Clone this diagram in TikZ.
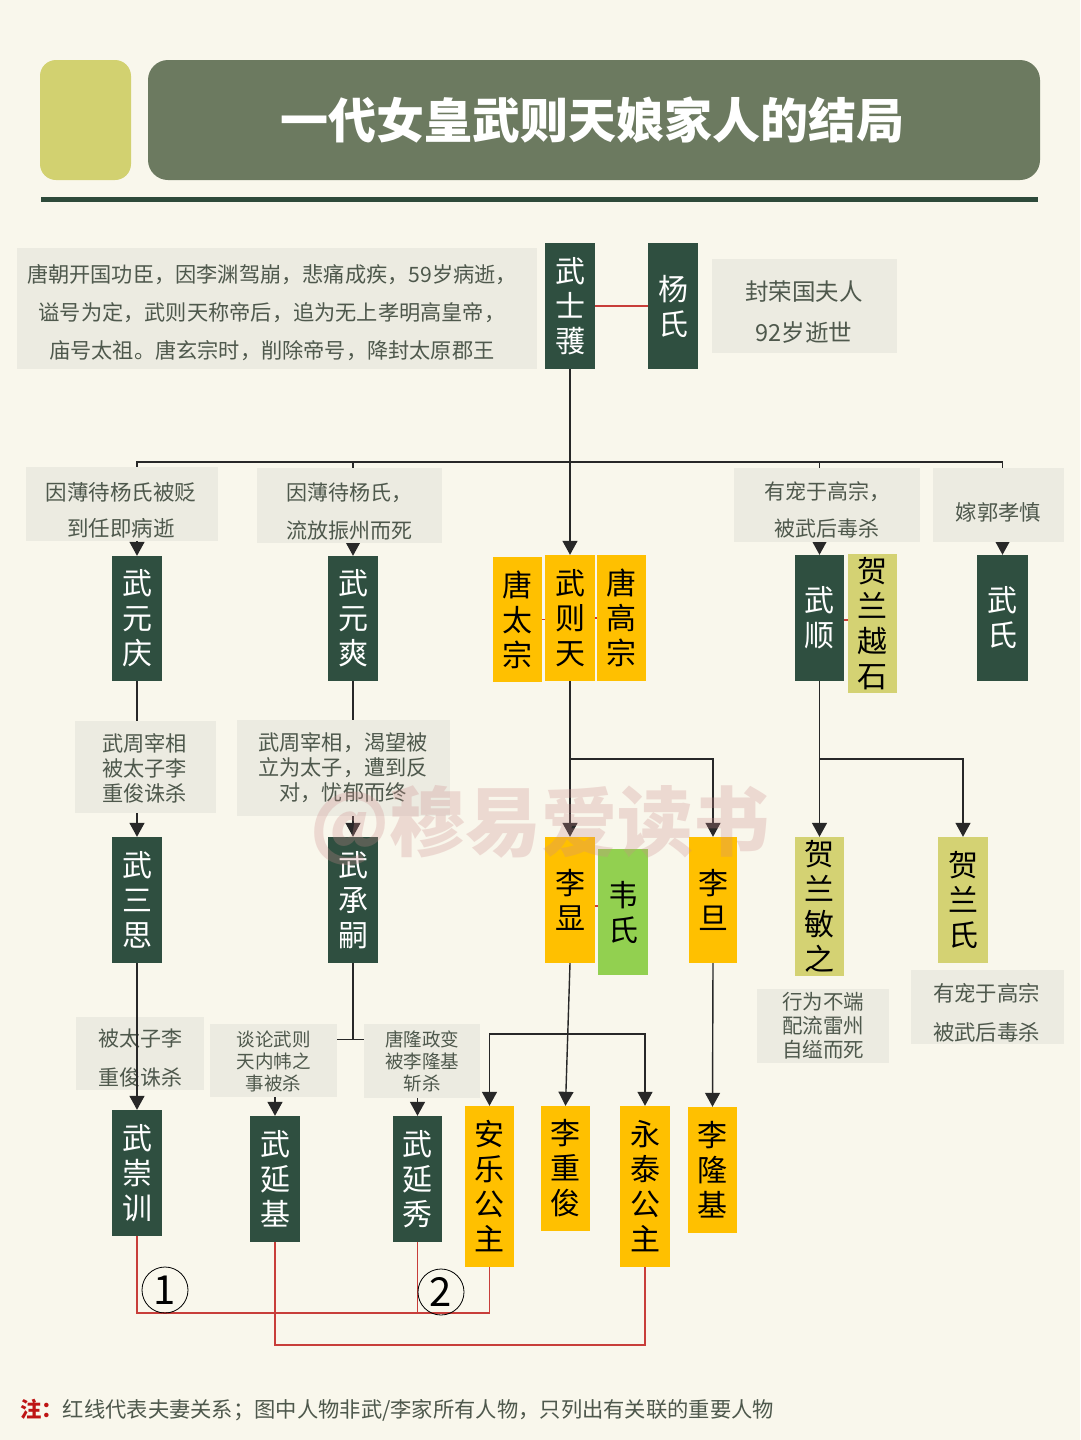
\documentclass[tikz,border=0pt]{standalone}
\usepackage{fontspec}
\newfontfamily\cjk{Noto Sans CJK SC}
\usetikzlibrary{arrows.meta,calc}
\definecolor{bgc}{RGB}{249,247,236}
\definecolor{lime}{RGB}{210,209,112}
\definecolor{hdr}{RGB}{108,122,96}
\definecolor{hline}{RGB}{46,74,58}
\definecolor{dkg}{RGB}{47,79,64}
\definecolor{org}{RGB}{255,192,0}
\definecolor{olv}{RGB}{212,210,115}
\definecolor{wgr}{RGB}{146,208,80}
\definecolor{gbx}{RGB}{236,235,225}
\definecolor{gtx}{RGB}{78,88,76}
\definecolor{lnc}{RGB}{40,40,40}
\definecolor{redl}{RGB}{200,62,58}
\definecolor{notered}{RGB}{190,20,20}
\definecolor{wmc}{RGB}{205,140,140}
\pgfdeclarelayer{bgl}
\pgfdeclarelayer{lines}
\pgfdeclarelayer{front}
\pgfsetlayers{bgl,lines,main,front}
\tikzset{
  pn/.style={rectangle, inner sep=0pt, align=center, font=\cjk\fontsize{30}{35}\selectfont},
  dk/.style={pn, fill=dkg, text=white},
  og/.style={pn, fill=org, text=black},
  ol/.style={pn, fill=olv, text=black},
  wg/.style={pn, fill=wgr, text=black},
  sz/.style n args={2}{minimum width=#1pt, minimum height=#2pt},
  gtxt/.style={align=center, text=gtx, inner sep=0pt},
  ln/.style={line width=1.4pt, draw=lnc},
  arr/.style={ln, -{Triangle[width=15pt,length=14pt]}},
  rl/.style={line width=1.4pt, draw=redl},
  cnum/.style={circle, draw=black, line width=0.8pt, minimum size=46pt, inner sep=0pt, font=\cjk\fontsize{40}{40}\selectfont}
}
\begin{document}
\begin{tikzpicture}[x=1pt,y=-1pt]
\begin{pgfonlayer}{bgl}
\fill[bgc] (0,0) rectangle (1080,1440);
\end{pgfonlayer}
\useasboundingbox (0,0) rectangle (1080,1440);

% header
\node[fill=lime, rounded corners=16pt, minimum width=91pt, minimum height=120pt, inner sep=0pt] (hdl) at (85.5,120) {};
\node[fill=hdr, rounded corners=20pt, minimum width=892pt, minimum height=120pt, inner sep=0pt] (hdr) at (594,120) {};
\node[font=\cjk\bfseries\fontsize{48}{48}\selectfont, text=white] (title) at (592,120) {一代女皇武则天娘家人的结局};
\fill[hline] (41,197) rectangle (1038,202);

% gray boxes
\fill[gbx] (17,248) rectangle (537,369);
\fill[gbx] (712,259) rectangle (897,353);
\fill[gbx] (26,467) rectangle (218,541);
\fill[gbx] (257,468) rectangle (442,543);
\fill[gbx] (734,468) rectangle (920,542);
\fill[gbx] (933,468) rectangle (1064,542);
\fill[gbx] (75,721) rectangle (216,813);
\fill[gbx] (237,720) rectangle (450,816);
\fill[gbx] (757,989) rectangle (889,1063);
\fill[gbx] (911,970) rectangle (1064,1044);
\fill[gbx] (76,1017) rectangle (204,1090);
\fill[gbx] (210,1024) rectangle (337,1097);
\fill[gbx] (364,1024) rectangle (480,1098);

% gray texts
\node[gtxt, font=\cjk\fontsize{21.2}{38}\selectfont] (t0) at (272,313) {唐朝开国功臣，因李渊驾崩，悲痛成疾，59岁病逝，\\谥号为定，武则天称帝后，追为无上孝明高皇帝，\\庙号太祖。唐玄宗时，削除帝号，降封太原郡王};
\node[gtxt, font=\cjk\fontsize{23.5}{41}\selectfont] (t1) at (804,312) {封荣国夫人\\92岁逝世};
\node[gtxt, font=\cjk\fontsize{21.5}{36}\selectfont] (t2) at (121,510) {因薄待杨氏被贬\\到任即病逝};
\node[gtxt, font=\cjk\fontsize{21}{38}\selectfont] (t3) at (349,512) {因薄待杨氏，\\流放振州而死};
\node[gtxt, font=\cjk\fontsize{21}{37}\selectfont] (t4) at (827,510) {有宠于高宗，\\被武后毒杀};
\node[gtxt, font=\cjk\fontsize{21.3}{37}\selectfont] (t5) at (998.5,512) {嫁郭孝慎};
\node[gtxt, font=\cjk\fontsize{21.2}{25}\selectfont] (t6) at (144.5,768) {武周宰相\\被太子李\\重俊诛杀};
\node[gtxt, font=\cjk\fontsize{21.2}{25}\selectfont] (t7) at (343,768) {武周宰相，渴望被\\立为太子，遭到反\\对，忧郁而终};
\node[gtxt, font=\cjk\fontsize{20.5}{24}\selectfont] (t8) at (823,1026) {行为不端\\配流雷州\\自缢而死};
\node[gtxt, font=\cjk\fontsize{21.4}{39}\selectfont] (t9) at (986.5,1012.5) {有宠于高宗\\被武后毒杀};
\node[gtxt, font=\cjk\fontsize{21}{39}\selectfont] (t10) at (140,1058.5) {被太子李\\重俊诛杀};
\node[gtxt, font=\cjk\fontsize{18.5}{22}\selectfont] (t11) at (273.5,1061) {谈论武则\\天内帏之\\事被杀};
\node[gtxt, font=\cjk\fontsize{18.5}{22}\selectfont] (t12) at (422,1061) {唐隆政变\\被李隆基\\斩杀};

% people
\node[dk, sz={50}{126}] (wsy) at (570,306) {武\\士\\彟};
\node[dk, sz={50}{126}] (yang) at (673,306) {杨\\氏};
\node[dk, sz={50}{125}] (wyq) at (137,618.5) {武\\元\\庆};
\node[dk, sz={50}{125}] (wys) at (353,618.5) {武\\元\\爽};
\node[og, sz={49}{125}] (tts) at (517.5,619.5) {唐\\太\\宗};
\node[og, sz={50}{126}] (wzt) at (570,618) {武\\则\\天};
\node[og, sz={49}{126}] (tgz) at (621.5,618) {唐\\高\\宗};
\node[dk, sz={49}{126}] (wshun) at (819.5,618) {武\\顺};
\node[ol, sz={49}{139}] (hlys) at (872.5,623.5) {贺\\兰\\越\\石};
\node[dk, sz={51}{126}] (wushi) at (1002.5,618) {武\\氏};
\node[dk, sz={50}{126}] (wss) at (137,900) {武\\三\\思};
\node[dk, sz={50}{126}] (wcs) at (353,900) {武\\承\\嗣};
\node[og, sz={50}{126}] (lx) at (570,900) {李\\显};
\node[wg, sz={50}{126}] (wei) at (623,912) {韦\\氏};
\node[og, sz={48}{126}] (ld) at (713,900) {李\\旦};
\node[ol, sz={49}{139}] (hlmz) at (819.5,906.5) {贺\\兰\\敏\\之};
\node[ol, sz={50}{126}] (hls) at (963,900) {贺\\兰\\氏};
\node[dk, sz={50}{126}] (wcx) at (137,1173) {武\\崇\\训};
\node[dk, sz={50}{126}] (wyj) at (275,1179) {武\\延\\基};
\node[dk, sz={49}{126}] (wyx) at (417.5,1179) {武\\延\\秀};
\node[og, sz={49}{161}] (alg) at (489.5,1186.5) {安\\乐\\公\\主};
\node[og, sz={49}{125}] (lcj) at (565.5,1168.5) {李\\重\\俊};
\node[og, sz={50}{161}] (ytg) at (645,1186.5) {永\\泰\\公\\主};
\node[og, sz={49}{126}] (llj) at (712.5,1170) {李\\隆\\基};

\coordinate (bar) at (0,462);
\coordinate (b1) at (0,759);
\coordinate (b2) at (0,1039.5);
\coordinate (b3) at (0,1034);
\coordinate (r1) at (0,1313);
\coordinate (r2) at (0,1345);

\begin{pgfonlayer}{lines}
\draw[arr] (wsy.south) -- (wzt.north);
\draw[arr] (wsy.south|-bar) -| (wyq.north);
\draw[arr] (wsy.south|-bar) -| (wushi.north);
\draw[arr] (wys.north|-bar) -- (wys.north);
\draw[arr] (wshun.north|-bar) -- (wshun.north);
\draw[arr] (wyq.south) -- (wss.north);
\draw[arr] (wys.south) -- (wcs.north);
\draw[arr] (wzt.south) -- (lx.north);
\draw[arr] (wzt.south|-b1) -| (ld.north);
\draw[arr] (wshun.south) -- (hlmz.north);
\draw[arr] (wshun.south|-b1) -| (hls.north);
\draw[ln] (wcs.south) -- (wcs.south|-b2);
\draw[arr] (wcs.south|-b2) -| (wyj.north);
\draw[arr] (wcs.south|-b2) -| (wyx.north);
\draw[arr] (lx.south) -- (lcj.north);
\draw[arr] (lcj.north|-b3) -| (alg.north);
\draw[arr] (lcj.north|-b3) -| (ytg.north);
\draw[arr] (ld.south) -- (llj.north);
% marriage lines
\draw[rl] (wsy.east) -- (yang.west);
\draw[rl] (tts.east) -- (tts.east -| wzt.west);
\draw[rl] (wzt.east) -- (wzt.east -| tgz.west);
\draw[rl] ([yshift=-2pt]wshun.east) -- ([yshift=-2pt]wshun.east -| hlys.west);
\draw[rl] ([yshift=-6pt]lx.east) -- ([yshift=-6pt]lx.east -| wei.west);
\draw[rl] (wcx.south) |- (alg.south|-r1) -- (alg.south);
\draw[rl] (wyx.south) -- (wyx.south|-r1);
\draw[rl] (wyj.south) |- (ytg.south|-r2) -- (ytg.south);
\end{pgfonlayer}

\begin{pgfonlayer}{front}
\draw[arr] (wss.south) -- (wcx.north);
\node[cnum] (c1) at (165,1290) {1};
\node[cnum] (c2) at (441,1292) {2};
\node[text=wmc, opacity=0.28, font=\cjk\bfseries\fontsize{76}{76}\selectfont] (wm) at (540,826) {@穆易爱读书};
\end{pgfonlayer}

% note
\node[anchor=west, inner sep=0pt, text=gtx, font=\cjk\fontsize{21.3}{26}\selectfont] (note) at (20,1410) {{\color{notered}\bfseries 注：}红线代表夫妻关系；图中人物非武/李家所有人物，只列出有关联的重要人物};
\end{tikzpicture}
\end{document}
